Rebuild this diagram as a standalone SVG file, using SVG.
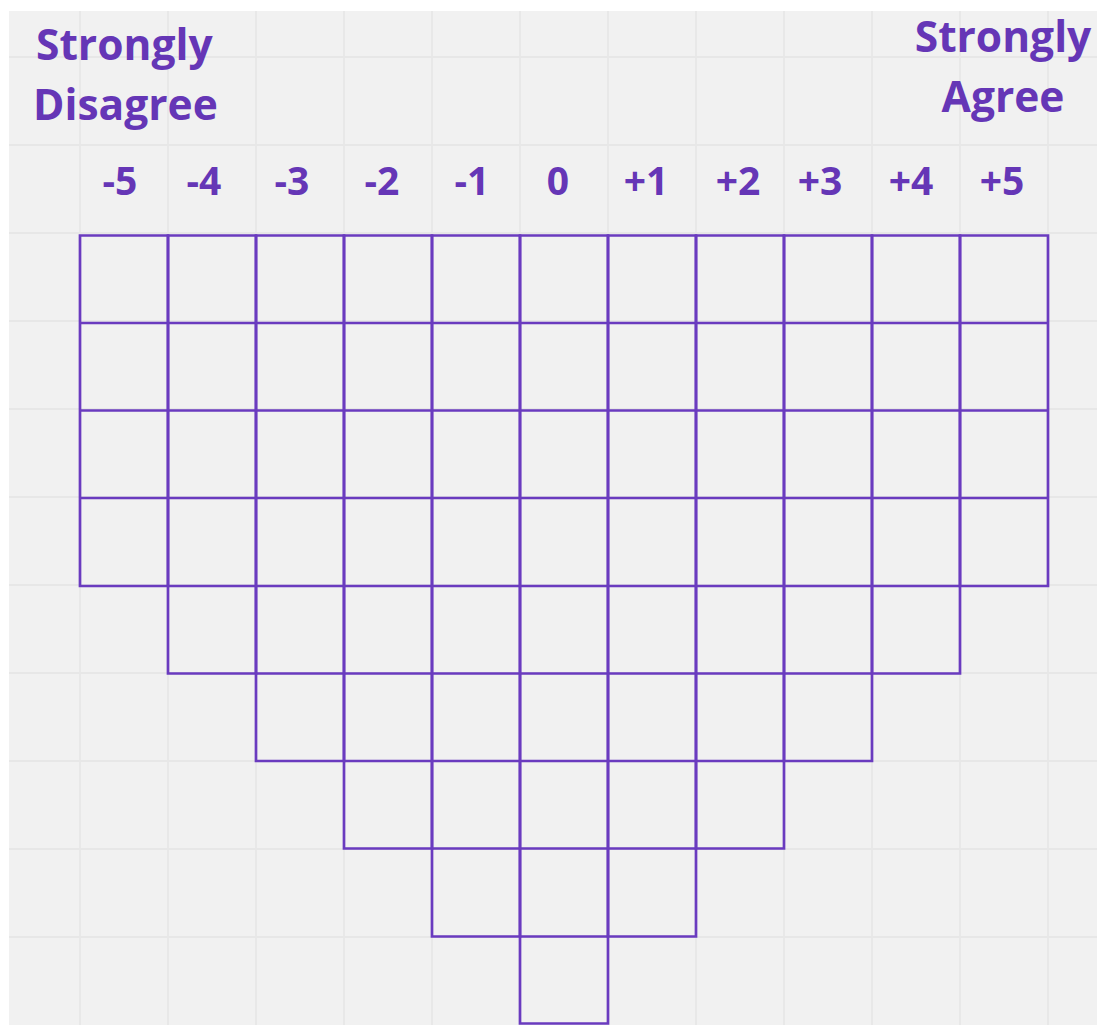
<svg xmlns="http://www.w3.org/2000/svg" width="1097" height="1025" viewBox="0 0 1097 1025">
<style>
.bg{fill:#f1f1f1}
.gl{stroke:#e7e7e7;stroke-width:1.8;fill:none}
.cell{fill:none;stroke:#6a3bbf;stroke-width:2.7}
.title{font-family:"Open Sans","Noto Sans",sans-serif;font-weight:700;font-size:42.5px;fill:#6536b6}
.num{font-family:"Open Sans","Noto Sans",sans-serif;font-weight:700;font-size:39px;fill:#6536b6;text-anchor:middle}
</style>
<rect x="0" y="0" width="1097" height="1025" fill="#ffffff"/>
<rect class="bg" x="9" y="11" width="1088" height="1014"/>
<g id="background-grid" class="gl">
<path d="M80 11V1025M168 11V1025M256 11V1025M344 11V1025M432 11V1025M520 11V1025M608 11V1025M696 11V1025M784 11V1025M872 11V1025M960 11V1025M1048 11V1025"/>
<path d="M9 57H1097M9 145H1097M9 233H1097M9 321H1097M9 409H1097M9 497H1097M9 585H1097M9 673H1097M9 761H1097M9 849H1097M9 937H1097"/>
</g>
<g id="label-disagree">
<text class="title" x="36" y="60">Strongly</text>
<text class="title" x="33" y="120">Disagree</text>
</g>
<g id="label-agree">
<text class="title" x="1003" y="52" text-anchor="middle">Strongly</text>
<text class="title" x="1003" y="112" text-anchor="middle">Agree</text>
</g>
<g id="scale-labels">
<text class="num" x="120" y="195">-5</text>
<text class="num" x="204" y="195">-4</text>
<text class="num" x="292" y="195">-3</text>
<text class="num" x="382" y="195">-2</text>
<text class="num" x="472" y="195">-1</text>
<text class="num" x="558" y="195">0</text>
<text class="num" x="646" y="195">+1</text>
<text class="num" x="738" y="195">+2</text>
<text class="num" x="820" y="195">+3</text>
<text class="num" x="911" y="195">+4</text>
<text class="num" x="1002" y="195">+5</text>
</g>
<g id="col-m5"><path class="cell" d="M80 235.5h88v350.5h-88zM80 323h88M80 410.5h88M80 498h88"/></g>
<g id="col-m4"><path class="cell" d="M168 235.5h88v438h-88zM168 323h88M168 410.5h88M168 498h88M168 586h88"/></g>
<g id="col-m3"><path class="cell" d="M256 235.5h88v525.5h-88zM256 323h88M256 410.5h88M256 498h88M256 586h88M256 673.5h88"/></g>
<g id="col-m2"><path class="cell" d="M344 235.5h88v613h-88zM344 323h88M344 410.5h88M344 498h88M344 586h88M344 673.5h88M344 761h88"/></g>
<g id="col-m1"><path class="cell" d="M432 235.5h88v701h-88zM432 323h88M432 410.5h88M432 498h88M432 586h88M432 673.5h88M432 761h88M432 848.5h88"/></g>
<g id="col-0"><path class="cell" d="M520 235.5h88v788h-88zM520 323h88M520 410.5h88M520 498h88M520 586h88M520 673.5h88M520 761h88M520 848.5h88M520 936.5h88"/></g>
<g id="col-p1"><path class="cell" d="M608 235.5h88v701h-88zM608 323h88M608 410.5h88M608 498h88M608 586h88M608 673.5h88M608 761h88M608 848.5h88"/></g>
<g id="col-p2"><path class="cell" d="M696 235.5h88v613h-88zM696 323h88M696 410.5h88M696 498h88M696 586h88M696 673.5h88M696 761h88"/></g>
<g id="col-p3"><path class="cell" d="M784 235.5h88v525.5h-88zM784 323h88M784 410.5h88M784 498h88M784 586h88M784 673.5h88"/></g>
<g id="col-p4"><path class="cell" d="M872 235.5h88v438h-88zM872 323h88M872 410.5h88M872 498h88M872 586h88"/></g>
<g id="col-p5"><path class="cell" d="M960 235.5h88v350.5h-88zM960 323h88M960 410.5h88M960 498h88"/></g>
<g id="connectors"/>
</svg>
